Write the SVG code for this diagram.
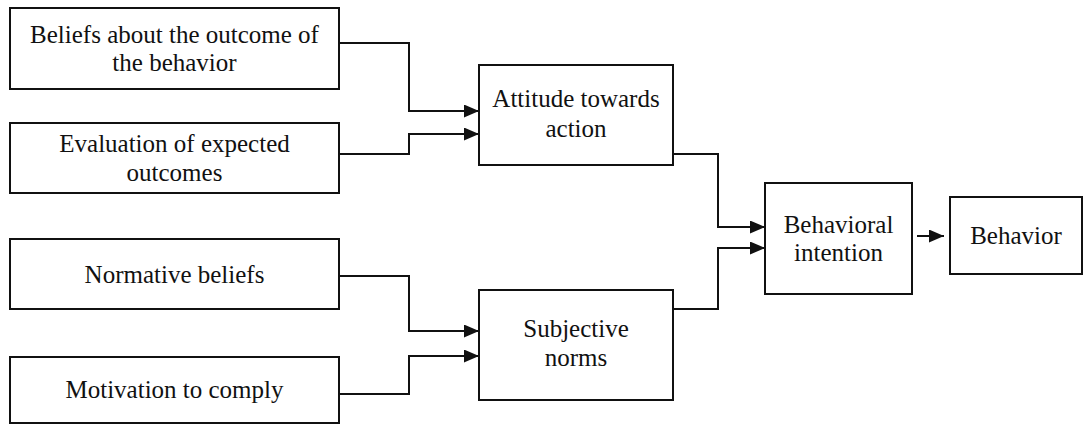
<svg xmlns="http://www.w3.org/2000/svg" width="1084" height="431" viewBox="0 0 1084 431">
<style>
.box{fill:#fff;stroke:#111;stroke-width:2}
.t{font-family:"Liberation Serif","Times New Roman",serif;font-size:25px;fill:#111;text-anchor:middle}
.c{fill:none;stroke:#111;stroke-width:2}
</style>
<defs>
<marker id="ah" markerWidth="15" markerHeight="13" refX="15" refY="6.5" orient="auto" markerUnits="userSpaceOnUse">
<path d="M0,0 L15,6.5 L0,13 Z" fill="#111"/>
</marker>
</defs>
<rect width="1084" height="431" fill="#fff"/>
<g id="connectors">
<path class="c" d="M339,43 H409 V111 H479" marker-end="url(#ah)"/>
<path class="c" d="M339,154 H409 V134 H479" marker-end="url(#ah)"/>
<path class="c" d="M339,276 H409 V331 H479" marker-end="url(#ah)"/>
<path class="c" d="M339,394 H409 V356 H479" marker-end="url(#ah)"/>
<path class="c" d="M673,154 H718 V227 H765" marker-end="url(#ah)"/>
<path class="c" d="M673,309 H718 V248 H765" marker-end="url(#ah)"/>
<path class="c" d="M917,236 H944" marker-end="url(#ah)"/>
</g>
<g id="beliefs">
<rect class="box" x="10" y="8" width="329" height="81"/>
<text class="t" x="174.5" y="43">Beliefs about the outcome of</text>
<text class="t" x="174.5" y="71">the behavior</text>
</g>
<g id="evaluation">
<rect class="box" x="10" y="123" width="329" height="70"/>
<text class="t" x="174.5" y="152">Evaluation of expected</text>
<text class="t" x="174.5" y="181">outcomes</text>
</g>
<g id="normative">
<rect class="box" x="10" y="239" width="329" height="70"/>
<text class="t" x="174.5" y="283">Normative beliefs</text>
</g>
<g id="motivation">
<rect class="box" x="10" y="357" width="329" height="66"/>
<text class="t" x="174.5" y="398">Motivation to comply</text>
</g>
<g id="attitude">
<rect class="box" x="479" y="65" width="194" height="100"/>
<text class="t" x="576" y="107">Attitude towards</text>
<text class="t" x="576" y="137">action</text>
</g>
<g id="subjective">
<rect class="box" x="479" y="290" width="194" height="110"/>
<text class="t" x="576" y="337">Subjective</text>
<text class="t" x="576" y="366">norms</text>
</g>
<g id="intention">
<rect class="box" x="765" y="183" width="147" height="111"/>
<text class="t" x="838.5" y="233">Behavioral</text>
<text class="t" x="838.5" y="261">intention</text>
</g>
<g id="behavior">
<rect class="box" x="950" y="197" width="132" height="77"/>
<text class="t" x="1016" y="244">Behavior</text>
</g>
</svg>
